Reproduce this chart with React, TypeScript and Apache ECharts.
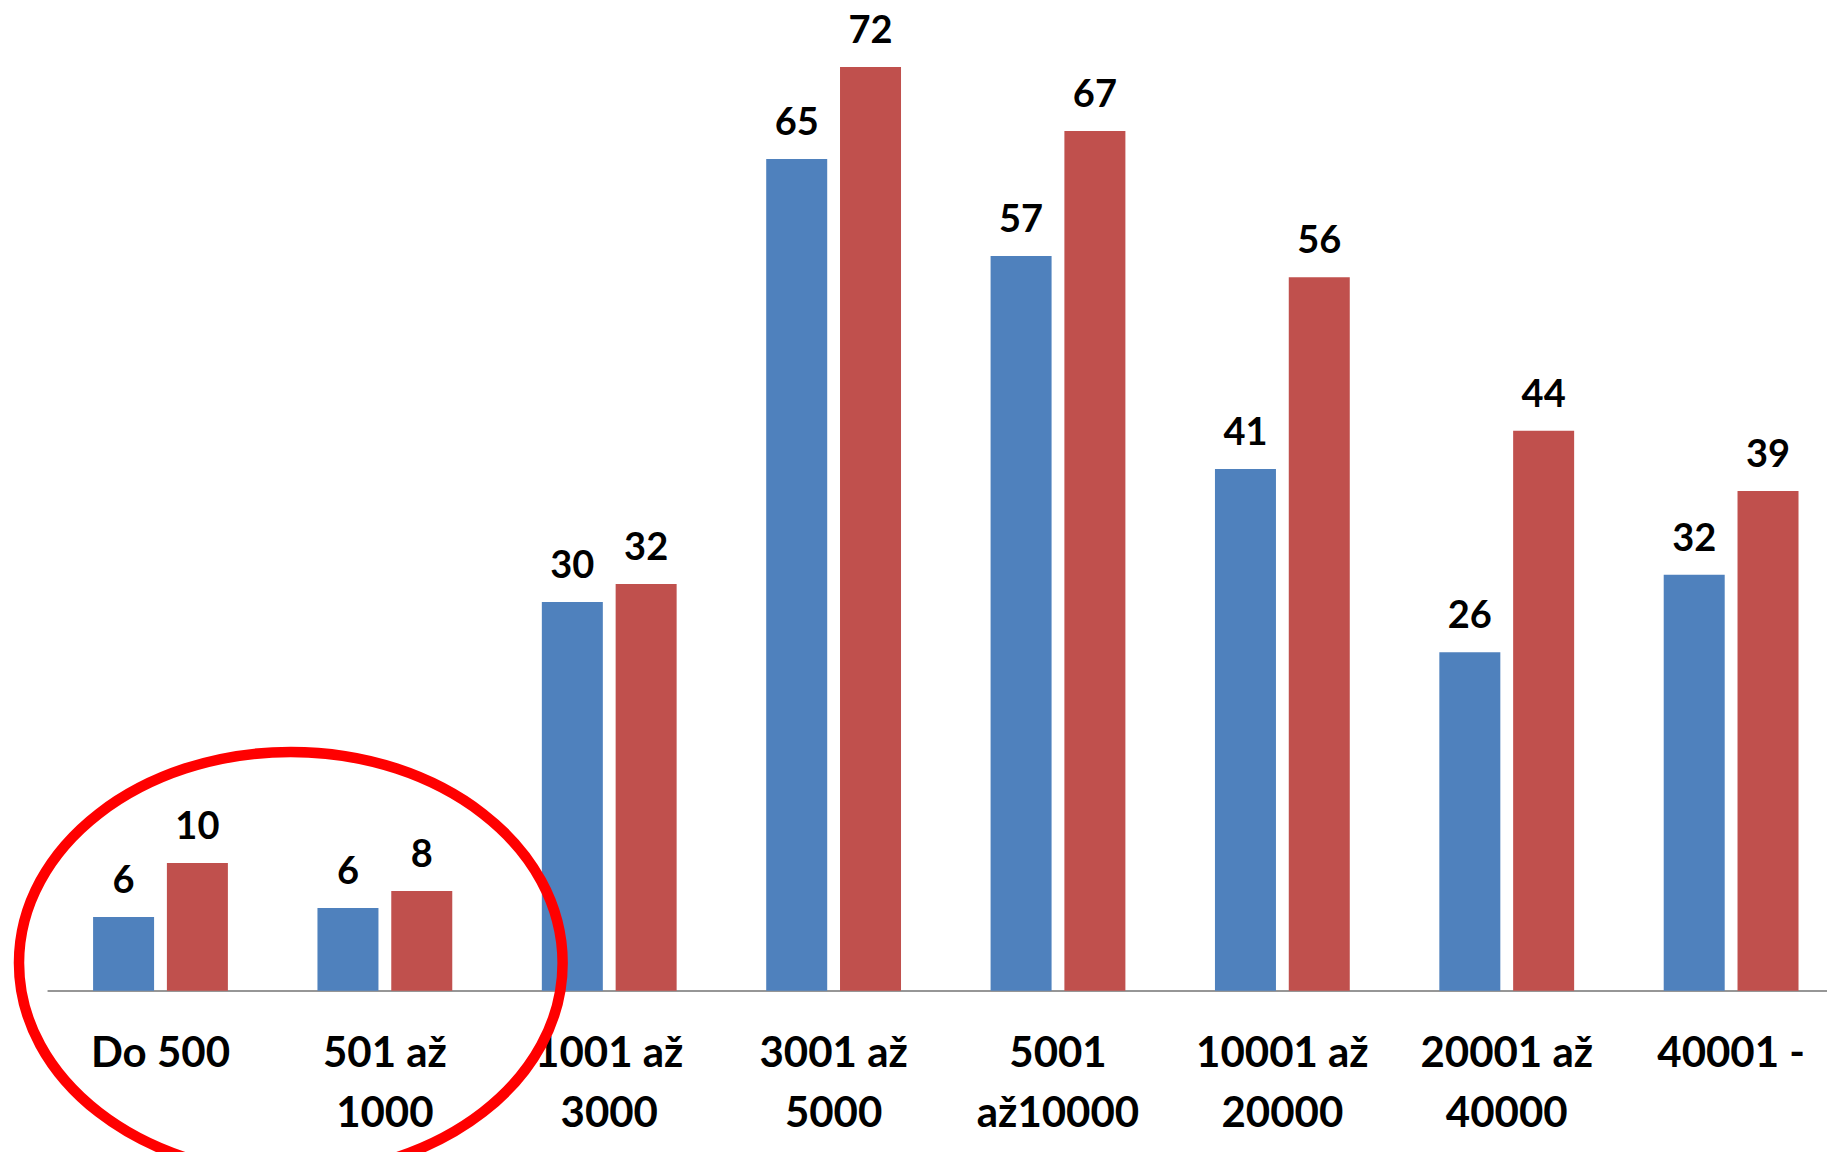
import React, { useEffect, useRef } from "react";
import * as echarts from "echarts";

const categories = [
  "Do 500",
  "501 až\n1000",
  "1001 až\n3000",
  "3001 až\n5000",
  "5001\naž10000",
  "10001 až\n20000",
  "20001 až\n40000",
  "40001 -",
];
const blueValues = [5.75, 6.45, 30.32, 64.87, 57.31, 40.69, 26.4, 32.45];
const redValues = [9.96, 7.78, 31.72, 72.05, 67.06, 55.65, 43.68, 38.98];

const BLUE = "#4F81BD";
const RED = "#C0504D";
const FONT = "Lato";

export default function App() {
  const ref = useRef<HTMLDivElement>(null);
  useEffect(() => {
    if (!ref.current) return;
    const chart = echarts.init(ref.current, null, { renderer: "svg" });
    const label = {
      show: true,
      position: "top" as const,
      distance: 20,
      color: "#000",
      fontFamily: FONT,
      fontWeight: "bold" as const,
      fontSize: 38,
      formatter: (p: any) => String(Math.round(p.value)),
    };
    chart.setOption({
      animation: false,
      backgroundColor: "#ffffff",
      grid: { left: 48.3, top: 0, bottom: 161.3, width: 1795, containLabel: false },
      xAxis: {
        type: "category",
        data: categories,
        axisLine: { show: true, lineStyle: { color: "#969696", width: 2 } },
        axisTick: { show: false },
        axisLabel: {
          interval: 0,
          margin: 30,
          color: "#000",
          fontFamily: FONT,
          fontWeight: "bold",
          fontSize: 42,
          lineHeight: 60,
        },
      },
      yAxis: {
        type: "value",
        min: 0,
        max: 77.28,
        show: false,
        splitLine: { show: false },
      },
      series: [
        {
          type: "bar",
          data: blueValues,
          barWidth: 61,
          barGap: "21%",
          itemStyle: { color: BLUE },
          label,
        },
        {
          type: "bar",
          data: redValues,
          barWidth: 61,
          barGap: "21%",
          itemStyle: { color: RED },
          label,
        },
      ],
      graphic: [
        {
          type: "ellipse",
          z: 100,
          shape: { cx: 290.8, cy: 963, rx: 271.8, ry: 211 },
          style: { fill: "none", stroke: "#FF0000", lineWidth: 10.5 },
        },
      ],
    });
    return () => chart.dispose();
  }, []);
  return (
    <div
      style={{
        position: "fixed",
        left: 0,
        top: 0,
        width: 1827,
        height: 1152,
        overflow: "hidden",
        background: "#fff",
      }}
    >
      <div ref={ref} style={{ width: 1870, height: 1152 }} />
    </div>
  );
}
